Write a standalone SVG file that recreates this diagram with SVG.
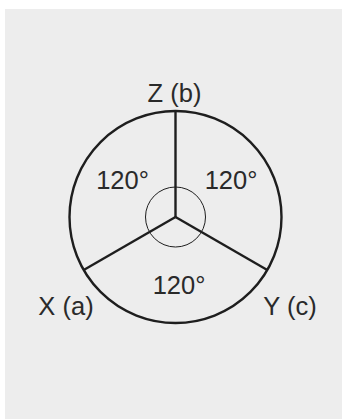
<svg xmlns="http://www.w3.org/2000/svg" width="342" height="419" viewBox="0 0 342 419">
<style>
.lbl{font-family:"Liberation Sans","DejaVu Sans",sans-serif;font-size:25.5px;fill:#2a2a2a;text-anchor:middle}
.thick{fill:none;stroke:#1e1e1e;stroke-width:2.4}
.thin{fill:none;stroke:#1e1e1e;stroke-width:1}
</style>
<rect x="0" y="0" width="342" height="419" fill="#ffffff"/>
<rect x="5" y="9" width="337" height="410" fill="#ededed"/>
<g id="circle">
<circle class="thick" cx="175.5" cy="217" r="106"/>
</g>
<g id="connectors">
<line class="thick" x1="175.5" y1="217" x2="175.5" y2="111"/>
<line class="thick" x1="175.5" y1="217" x2="83.7" y2="270"/>
<line class="thick" x1="175.5" y1="217" x2="267.3" y2="270"/>
</g>
<g id="angle-circle">
<circle class="thin" cx="175.5" cy="217" r="30"/>
</g>
<g id="Z"><text class="lbl" x="174.5" y="101.5">Z (b)</text></g>
<g id="X"><text class="lbl" x="66" y="315">X (a)</text></g>
<g id="Y"><text class="lbl" x="290" y="315">Y (c)</text></g>
<g id="angle-left"><text class="lbl" x="122.5" y="188.5">120°</text></g>
<g id="angle-right"><text class="lbl" x="231" y="188.5">120°</text></g>
<g id="angle-bottom"><text class="lbl" x="179" y="293.5">120°</text></g>
</svg>
